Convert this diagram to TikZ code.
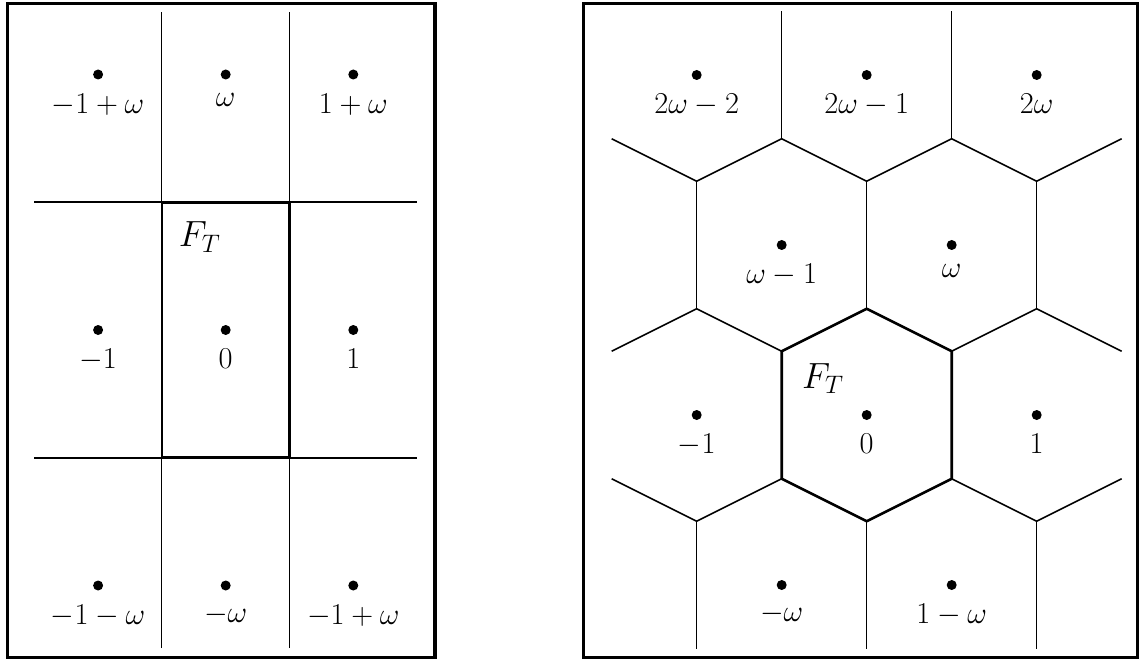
\documentclass[tikz,border=0pt]{standalone}
\usepackage{tikz}
\usetikzlibrary{positioning}

\begin{document}
\begin{tikzpicture}[
    latpt/.style={circle, fill, inner sep=0pt, minimum size=0.2cm},
    latlab/.style={inner sep=0pt, font=\fontsize{16.5}{20}\selectfont},
    ftlab/.style={inner sep=0pt, anchor=base west, font=\fontsize{21}{25}\selectfont},
    panel/.style={line width=1.8pt},
    thinline/.style={line width=0.6pt},
    midline/.style={line width=0.9pt},
    fund/.style={line width=1.5pt, line join=round}
]
\useasboundingbox (0,0) rectangle (22.82,13.18);

% left panel: rectangular cells
\draw[panel] (0.146,0.034) rectangle (8.70,13.107);
\begin{scope}[shift={(4.514,6.58)}, x=2.552cm, y=5.11cm]
  \draw[thinline] (-0.5,-1.245) -- (-0.5,1.245);
  \draw[thinline] (0.5,-1.245) -- (0.5,1.245);
  \draw[midline] (-1.5,0.5) -- (1.5,0.5);
  \draw[midline] (-1.5,-0.5) -- (1.5,-0.5);
  \draw[fund] (-0.5,-0.5) rectangle (0.5,0.5);
  \node[ftlab] (ftL) at (-0.37,0.326) {$F_T$};
  \foreach \px/\py/\nm/\txt in {-1/1/a/{-1+\omega}, 0/1/b/{\omega}, 1/1/c/{1+\omega},
      -1/0/d/{-1}, 0/0/e/{0}, 1/0/f/{1},
      -1/-1/g/{-1-\omega}, 0/-1/h/{-\omega}, 1/-1/i/{-1+\omega}} {
    \node[latpt] (L\nm) at (\px,\py) {};
    \node[latlab, below=0.266cm of L\nm] (L\nm lab) {$\txt$};
  }
\end{scope}

% right panel: hexagonal cells
\draw[panel] (11.666,0.034) rectangle (22.754,13.107);
\begin{scope}[shift={(17.334,4.88)}, x=3.4cm, y=3.4cm]
  \draw[midline] (-1.5,1.625) -- (-1,1.375) -- (-0.5,1.625) -- (0,1.375) -- (0.5,1.625) -- (1,1.375) -- (1.5,1.625);
  \draw[midline] (-1.5,0.375) -- (-1,0.625) -- (-0.5,0.375) -- (0,0.625) -- (0.5,0.375) -- (1,0.625) -- (1.5,0.375);
  \draw[midline] (-1.5,-0.375) -- (-1,-0.625) -- (-0.5,-0.375) -- (0,-0.625) -- (0.5,-0.375) -- (1,-0.625) -- (1.5,-0.375);
  \foreach \vx in {-0.5,0.5}
    \draw[thinline] (\vx,1.625) -- (\vx,2.375);
  \foreach \vx in {-1,0,1} {
    \draw[thinline] (\vx,0.625) -- (\vx,1.375);
    \draw[thinline] (\vx,-0.625) -- (\vx,-1.375);
  }
  \draw[fund] (0,0.625) -- (0.5,0.375) -- (0.5,-0.375) -- (0,-0.625) -- (-0.5,-0.375) -- (-0.5,0.375) -- cycle;
  \node[ftlab] (ftR) at (-0.382,0.157) {$F_T$};
  \foreach \px/\py/\nm/\txt in {-1/2/a/{2\omega-2}, 0/2/b/{2\omega-1}, 1/2/c/{2\omega},
      -0.5/1/d/{\omega-1}, 0.5/1/e/{\omega},
      -1/0/f/{-1}, 0/0/g/{0}, 1/0/h/{1},
      -0.5/-1/i/{-\omega}, 0.5/-1/j/{1-\omega}} {
    \node[latpt] (R\nm) at (\px,\py) {};
    \node[latlab, below=0.266cm of R\nm] (R\nm lab) {$\txt$};
  }
\end{scope}
\end{tikzpicture}
\end{document}
